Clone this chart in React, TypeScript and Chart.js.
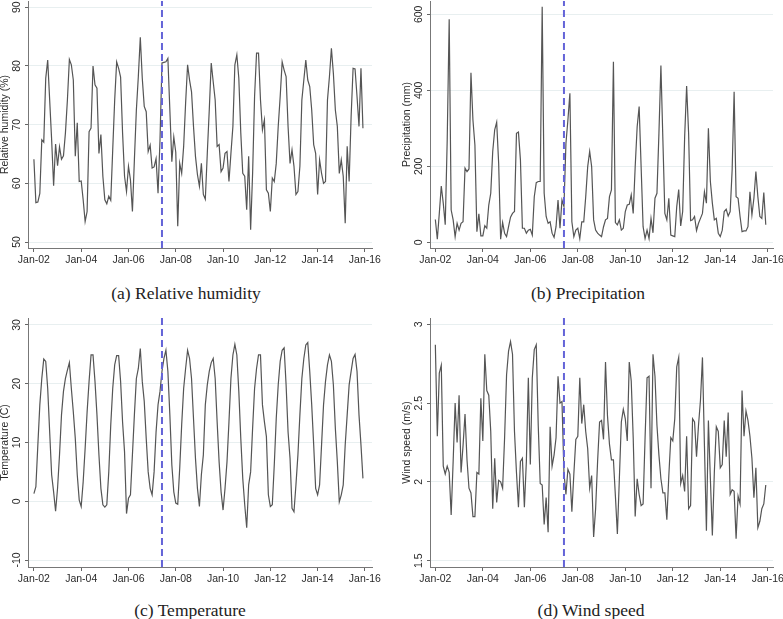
import React, { useEffect, useRef } from 'react';
import { Chart, registerables } from 'chart.js';

Chart.register(...registerables);

// Month index 0 = Jan 2002 ... 167 = Dec 2015
const xTickMonths = [0, 24, 48, 72, 96, 120, 144, 168];
const xTickLabels = ['Jan-02', 'Jan-04', 'Jan-06', 'Jan-08', 'Jan-10', 'Jan-12', 'Jan-14', 'Jan-16'];
const breakMonth = 65;

const humidity = [
  64.1, 56.7, 56.8, 58.3, 67.4, 67.0, 77.9, 81.0, 74.2, 67.4, 59.6, 66.7,
  63.0, 66.2, 64.1, 64.7, 68.6, 74.2, 81.1, 80.2, 77.6, 64.6, 70.3, 60.3,
  60.4, 57.2, 53.5, 55.2, 68.8, 69.4, 80.0, 76.8, 76.2, 65.1, 68.3, 61.2,
  57.2, 56.5, 57.8, 57.1, 65.7, 74.2, 80.7, 79.6, 78.1, 68.6, 61.2, 58.6,
  62.9, 60.6, 55.2, 64.0, 72.5, 78.2, 84.9, 77.9, 73.1, 72.2, 65.4, 66.5,
  62.6, 62.8, 64.2, 58.3, 67.4, 80.5, 80.6, 80.7, 81.3, 72.5, 63.7, 67.9,
  65.3, 52.7, 63.4, 61.7, 66.3, 73.7, 80.2, 77.6, 75.6, 69.7, 64.6, 61.5,
  59.5, 63.4, 58.1, 57.3, 65.1, 72.5, 80.5, 77.3, 74.2, 66.3, 66.6, 62.0,
  62.6, 65.1, 65.4, 60.3, 65.1, 69.7, 80.2, 81.9, 77.9, 68.6, 61.7, 61.2,
  55.5, 64.6, 52.1, 61.7, 74.8, 82.2, 82.2, 74.2, 69.1, 70.8, 58.9, 58.3,
  55.2, 60.9, 60.3, 63.4, 69.7, 74.8, 80.7, 79.3, 78.2, 69.7, 63.4, 65.7,
  62.9, 58.1, 58.6, 62.9, 74.2, 77.6, 81.0, 77.6, 76.5, 72.5, 66.6, 65.1,
  58.1, 64.0, 61.7, 60.0, 60.3, 74.2, 78.2, 83.0, 78.7, 72.5, 69.7, 61.7,
  64.0, 61.2, 53.2, 66.3, 60.3, 71.4, 79.6, 79.5, 74.8, 69.7, 79.6, 69.4,
];

const precipitation = [
  60, 8, 76, 148, 103, 46, 270, 587, 85, 59, 15, 50,
  32, 50, 54, 195, 186, 193, 446, 322, 256, 28, 75, 17,
  17, 44, 37, 98, 129, 239, 296, 316, 208, 8, 52, 24,
  15, 41, 66, 76, 81, 287, 290, 217, 37, 37, 24, 32,
  34, 19, 120, 157, 160, 160, 620, 129, 68, 50, 54, 24,
  13, 41, 111, 37, 111, 94, 260, 322, 392, 54, 15, 32,
  37, 10, 54, 54, 120, 199, 239, 199, 59, 32, 24, 19,
  15, 41, 59, 63, 120, 138, 475, 52, 46, 59, 32, 37,
  81, 98, 100, 125, 76, 199, 304, 357, 199, 41, 10, 32,
  10, 63, 25, 116, 129, 287, 465, 269, 76, 59, 116, 19,
  17, 15, 94, 139, 43, 81, 278, 411, 287, 57, 59, 68,
  31, 50, 63, 76, 133, 103, 300, 160, 103, 59, 63, 24,
  15, 32, 81, 87, 69, 81, 190, 396, 120, 116, 68, 28,
  30, 30, 41, 133, 72, 116, 186, 120, 68, 63, 131, 46,
];

const temperature = [
  1.3, 2.5, 9.6, 16.4, 20.9, 24.2, 23.8, 19.2, 11.8, 4.5, 1.6, -1.7,
  2.2, 7.9, 14.7, 18.7, 20.9, 22.3, 23.6, 19.2, 15.2, 10.7, 4.5, 0.2,
  -0.9, 3.3, 9.0, 15.2, 20.4, 24.9, 24.9, 20.4, 14.7, 7.9, 2.2, -0.6,
  -1.0, -0.6, 5.0, 13.0, 19.2, 23.2, 24.8, 24.8, 20.4, 13.5, 8.4, -2.1,
  0.5, 1.1, 7.9, 14.7, 20.9, 22.6, 26.0, 20.4, 17.0, 10.7, 5.0, 2.2,
  1.1, 5.0, 11.8, 16.4, 18.7, 22.1, 24.3, 25.7, 22.1, 14.7, 6.2, 1.6,
  -0.3, -0.5, 5.6, 13.0, 19.2, 22.6, 25.7, 24.3, 20.9, 14.1, 7.3, 2.2,
  -0.9, 4.5, 7.9, 16.4, 19.8, 22.1, 23.6, 24.3, 20.9, 13.5, 6.7, 1.6,
  -1.5, 2.2, 6.7, 13.5, 20.9, 24.9, 26.7, 24.9, 18.7, 10.7, 3.9, -0.6,
  -4.5, 2.8, 5.0, 12.4, 19.2, 22.6, 24.9, 24.9, 16.4, 13.5, 11.0, 1.1,
  -0.9, -0.6, 6.2, 14.1, 19.8, 23.8, 25.7, 26.1, 19.8, 11.8, 7.3, -1.2,
  -1.8, 2.8, 7.9, 14.7, 20.9, 24.3, 26.6, 27.0, 22.1, 16.4, 9.6, 2.2,
  1.1, 2.8, 9.6, 16.4, 20.4, 23.2, 24.9, 23.8, 19.8, 12.4, 6.7, -0.1,
  1.1, 2.8, 9.6, 14.7, 19.8, 22.1, 24.3, 25.0, 22.1, 14.7, 9.6, 3.9,
];

const windSpeed = [
  2.87, 2.29, 2.69, 2.74, 2.10, 2.05, 2.10, 2.06, 1.79, 2.13, 2.50, 2.25,
  2.55, 2.06, 2.23, 2.43, 2.14, 1.96, 1.93, 1.78, 1.78, 2.06, 2.05, 2.53,
  2.26, 2.81, 2.58, 2.55, 2.32, 1.83, 2.15, 1.87, 2.01, 2.00, 1.96, 2.28,
  2.68, 2.83, 2.89, 2.81, 2.32, 2.06, 1.84, 2.13, 2.15, 1.84, 2.13, 2.66,
  2.11, 2.66, 2.84, 2.87, 2.36, 1.99, 1.98, 1.73, 1.90, 1.68, 2.35, 2.10,
  2.17, 2.28, 2.67, 2.50, 2.51, 2.06, 1.92, 2.08, 2.05, 1.81, 2.05, 2.27,
  2.29, 2.66, 2.37, 2.49, 2.32, 2.21, 1.96, 2.04, 1.65, 1.83, 2.13, 2.38,
  2.39, 2.27, 2.76, 2.42, 2.24, 2.14, 2.14, 1.91, 1.67, 2.02, 2.38, 2.46,
  2.40, 2.26, 2.76, 2.64, 2.28, 1.78, 2.02, 1.92, 1.85, 1.86, 2.28, 2.66,
  2.67, 1.96, 2.81, 2.67, 2.36, 2.17, 2.02, 1.93, 1.93, 1.76, 2.04, 2.28,
  2.26, 2.40, 2.73, 2.79, 1.99, 2.04, 1.94, 2.29, 1.83, 1.85, 2.40, 2.38,
  2.16, 2.36, 2.52, 2.79, 2.23, 1.69, 2.39, 2.02, 1.66, 2.06, 2.35, 2.32,
  2.09, 2.11, 2.39, 2.16, 2.44, 1.92, 1.95, 1.94, 1.64, 1.91, 1.86, 2.58,
  2.29, 2.45, 2.39, 2.29, 2.15, 1.90, 2.09, 1.71, 1.75, 1.83, 1.86, 1.98,
];

const humidityTicks = [50, 60, 70, 80, 90];
const precipitationTicks = [0, 200, 400, 600];
const temperatureTicks = [-10, 0, 10, 20, 30];
const windTicks = [1.5, 2, 2.5, 3];

const AXIS_FONT = '10.5px "Liberation Sans", Arial, sans-serif';
const TEXT_COLOR = '#2a2a2a';

type PanelProps = {
  left: number; top: number; width: number; height: number;
  data: number[];
  yMin: number; yMax: number;
  yTicks: number[]; yTickLabels: string[];
  yTitle: string;
  xMin: number; xMax: number;
  yAxisW: number; xAxisH: number; padTop: number; padRight: number;
};

function Panel(p: PanelProps) {
  const ref = useRef<HTMLCanvasElement | null>(null);
  useEffect(() => {
    if (!ref.current) return;
    const labelsPlugin = {
      id: 'stataLabels',
      afterDraw(chart: any) {
        const ctx = chart.ctx;
        const ys = chart.scales.y;
        const xs = chart.scales.x;
        const area = chart.chartArea;
        ctx.save();
        ctx.fillStyle = TEXT_COLOR;
        ctx.font = AXIS_FONT;
        ctx.textAlign = 'center';
        ctx.textBaseline = 'middle';
        p.yTicks.forEach((v, i) => {
          const y = ys.getPixelForValue(v);
          ctx.save();
          ctx.translate(area.left - 11, y);
          ctx.rotate(-Math.PI / 2);
          ctx.fillText(p.yTickLabels[i], 0, 0);
          ctx.restore();
        });
        ctx.save();
        ctx.translate(area.left - 22.5, (area.top + area.bottom) / 2);
        ctx.rotate(-Math.PI / 2);
        ctx.fillText(p.yTitle, 0, 0);
        ctx.restore();
        xTickMonths.forEach((m, i) => {
          const x = xs.getPixelForValue(m);
          ctx.fillText(xTickLabels[i], x, area.bottom + 12.5);
        });
        ctx.restore();
      },
    };
    const chart = new Chart(ref.current, {
      type: 'line',
      data: {
        datasets: [
          {
            data: [{ x: breakMonth, y: p.yMin }, { x: breakMonth, y: p.yMax }],
            borderColor: '#6464d8',
            borderWidth: 2,
            borderDash: [7, 4],
            pointRadius: 0,
          },
          {
            data: p.data.map((v, i) => ({ x: i, y: v })),
            borderColor: '#555555',
            borderWidth: 1.2,
            pointRadius: 0,
            tension: 0,
          },
        ],
      },
      options: {
        animation: false,
        responsive: false,
        events: [],
        layout: { padding: { left: 0, top: p.padTop, right: p.padRight, bottom: 0 } },
        plugins: { legend: { display: false }, tooltip: { enabled: false } },
        scales: {
          x: {
            type: 'linear',
            min: p.xMin,
            max: p.xMax,
            afterBuildTicks: (s: any) => { s.ticks = xTickMonths.map((v) => ({ value: v })); },
            afterFit: (s: any) => { s.height = p.xAxisH; },
            ticks: { display: false },
            grid: { display: true, drawOnChartArea: false, drawTicks: true, tickLength: 4, tickColor: '#666' },
            border: { display: true, color: '#777', width: 1 },
          },
          y: {
            type: 'linear',
            min: p.yMin,
            max: p.yMax,
            afterBuildTicks: (s: any) => { s.ticks = p.yTicks.map((v) => ({ value: v })); },
            afterFit: (s: any) => { s.width = p.yAxisW; },
            ticks: { display: false },
            grid: { display: true, color: '#e8eff0', drawTicks: true, tickLength: 3, tickColor: '#666' },
            border: { display: true, color: '#777', width: 1 },
          },
        },
      } as any,
      plugins: [labelsPlugin],
    });
    return () => chart.destroy();
  }, []);
  return (
    <canvas
      ref={ref}
      width={p.width}
      height={p.height}
      style={{ position: 'absolute', left: p.left, top: p.top, width: p.width, height: p.height }}
    />
  );
}

function Caption({ cx, cy, text }: { cx: number; cy: number; text: string }) {
  return (
    <div
      style={{
        position: 'absolute', left: cx - 150, top: cy - 11, width: 300, height: 22,
        lineHeight: '22px', textAlign: 'center', fontFamily: '"Liberation Serif", "Times New Roman", serif',
        fontSize: 17.5, color: '#222',
      }}
    >
      {text}
    </div>
  );
}

export default function App() {
  return (
    <div style={{ position: 'absolute', left: 0, top: 0, width: 783, height: 619, background: '#fff', overflow: 'hidden' }}>
      <Panel left={0} top={0} width={391} height={273} data={humidity}
        yMin={48.98} yMax={91.07} yTicks={humidityTicks} yTickLabels={humidityTicks.map(String)}
        yTitle="Relative humidity (%)" xMin={-3} xMax={171.6} yAxisW={28} xAxisH={25} padTop={1} padRight={19} />
      <Panel left={391} top={0} width={392} height={273} data={precipitation}
        yMin={-15} yMax={635} yTicks={precipitationTicks} yTickLabels={precipitationTicks.map(String)}
        yTitle="Precipitation (mm)" xMin={-2.7} xMax={170.65} yAxisW={39} xAxisH={25} padTop={1} padRight={10} />
      <Panel left={0} top={313} width={391} height={279} data={temperature}
        yMin={-11.19} yMax={31.19} yTicks={temperatureTicks} yTickLabels={temperatureTicks.map(String)}
        yTitle="Temperature (C)" xMin={-3} xMax={171.6} yAxisW={28} xAxisH={25} padTop={5} padRight={19} />
      <Panel left={391} top={313} width={392} height={279} data={windSpeed}
        yMin={1.46} yMax={3.04} yTicks={windTicks} yTickLabels={windTicks.map(String)}
        yTitle="Wind speed (m/s)" xMin={-2.7} xMax={170.65} yAxisW={39} xAxisH={25} padTop={5} padRight={10} />
      <Caption cx={186} cy={293} text="(a) Relative humidity" />
      <Caption cx={588} cy={293} text="(b) Precipitation" />
      <Caption cx={190} cy={610} text="(c) Temperature" />
      <Caption cx={591} cy={610} text="(d) Wind speed" />
    </div>
  );
}
